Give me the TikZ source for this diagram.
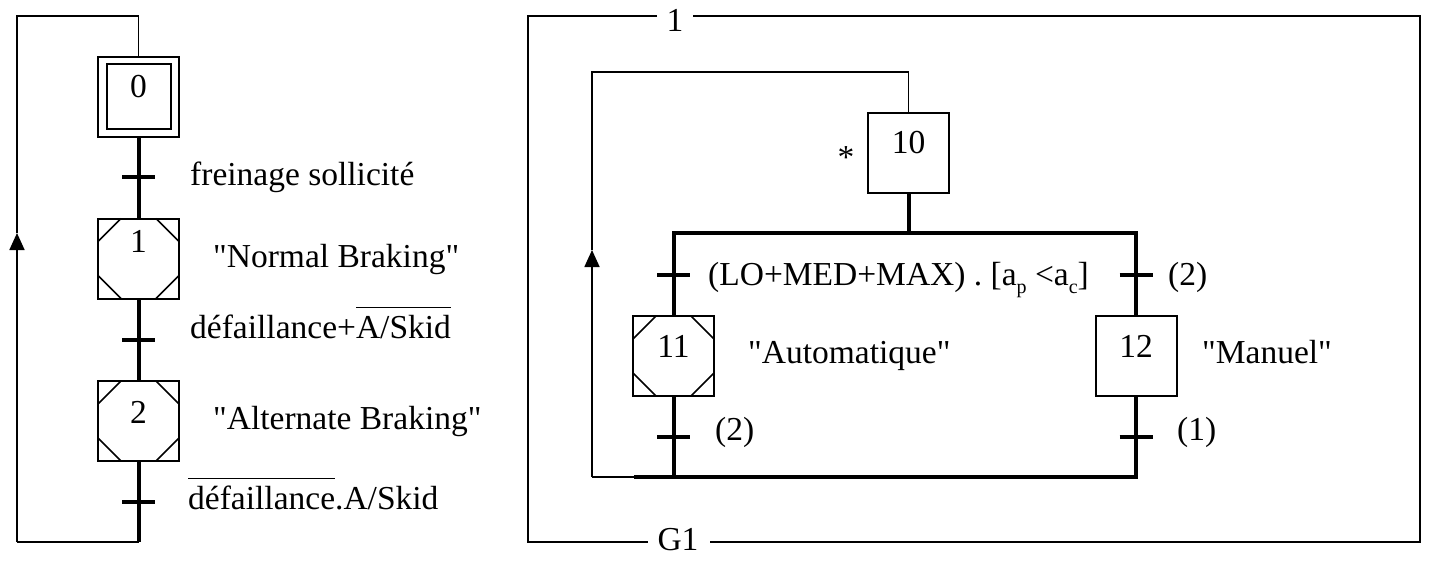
\documentclass[tikz,border=0pt]{standalone}
\usepackage{fontspec}
\setmainfont{Liberation Serif}
\usetikzlibrary{arrows.meta,calc}
\tikzset{
  thinln/.style={line width=1.7pt},
  frameln/.style={line width=1.3pt},
  medln/.style={line width=2.6pt},
  thickln/.style={line width=4pt},
  barln/.style={line width=4pt},
  cornerln/.style={line width=1.7pt},
  stepbox/.style={draw, line width=2pt, minimum width=81pt, minimum height=80pt, inner sep=0pt, outer sep=0pt},
  txt/.style={font=\fontsize{33.5}{40}\selectfont, inner sep=0pt, anchor=base west},
  num/.style={font=\fontsize{33.5}{40}\selectfont, inner sep=0pt, anchor=base},
  uparrow/.style={-{Triangle[length=17pt,width=15pt]}}
}
\newcommand\cutcorners[1]{%
  \draw[cornerln] ($(#1.north west)+(0,23)$) -- ($(#1.north west)+(23,0)$);
  \draw[cornerln] ($(#1.north east)+(-23,0)$) -- ($(#1.north east)+(0,23)$);
  \draw[cornerln] ($(#1.south west)+(0,-23)$) -- ($(#1.south west)+(23,0)$);
  \draw[cornerln] ($(#1.south east)+(-23,0)$) -- ($(#1.south east)+(0,-23)$);}
\newcommand\tbar[1]{\draw[barln] ($(#1)+(-16.5,0)$) -- ($(#1)+(16.5,0)$);}
\newcommand\qq{\textquotedbl}
\newcommand\ovl[1]{$\overline{\hbox{\vrule width 0pt height 29pt #1}}$}
\newcommand\sub[1]{\raisebox{-8pt}{\fontsize{20}{24}\selectfont #1}}
\begin{document}
\begin{tikzpicture}[x=1pt,y=-1pt]
\useasboundingbox[fill=white] (0,0) rectangle (1443,578);

% ---------------- left chart ----------------
\node[stepbox] (s0) at (138.5,97) {};
\node[stepbox, minimum width=64pt, minimum height=65pt] (s0i) at (138.5,96.5) {};
\node[num] (n0) at (138.5,97) {0};

\node[stepbox] (s1) at (138.5,258.5) {};
\cutcorners{s1}
\node[num] (n1) at (138.5,252) {1};

\node[stepbox] (s2) at (138.5,421) {};
\cutcorners{s2}
\node[num] (n2) at (138.5,423) {2};

\coordinate (t0) at (138.5,177);
\coordinate (t1) at (138.5,340);
\coordinate (t2) at (138.5,502);
\coordinate (lb) at (138.5,542);
\coordinate (ll) at (17,542);
\coordinate (la) at (17,233);
\coordinate (lt) at (17,16);
\coordinate (ltr) at (138.5,16);

\draw[thickln] (s0.south) -- (s1.north);
\draw[thickln] (s1.south) -- (s2.north);
\draw[thickln] (s2.south) -- (lb);
\tbar{t0}
\tbar{t1}
\tbar{t2}
\draw[medln] (lb) -- (ll);
\draw[thinln, uparrow] (ll) -- (la);
\draw[thinln] (la) -- (lt) -- (ltr) -- (s0.north);

\node[txt] (c0) at (190,185) {freinage sollicité};
\node[txt] (a1) at (213,267) {\qq Normal Braking\qq};
\node[txt] (c1) at (190,338) {défaillance+\ovl{A/Skid}};
\node[txt] (a2) at (213,429) {\qq Alternate Braking\qq};
\node[txt] (c2) at (188,509) {\ovl{défaillance}.A/Skid};

% ---------------- right chart ----------------
\node[num] (g1top) at (675,32) {1};
\node[num] (g1bot) at (678,550) {G1};
\coordinate (f1) at (657,16);
\coordinate (f2) at (528,16);
\coordinate (f3) at (528,542);
\coordinate (f4) at (648,542);
\coordinate (f5) at (710,542);
\coordinate (f6) at (1420,542);
\coordinate (f7) at (1420,16);
\coordinate (f8) at (693,16);
\draw[frameln] (f1) -- (f2) -- (f3) -- (f4);
\draw[frameln] (f5) -- (f6) -- (f7) -- (f8);

\node[stepbox] (s10) at (908.5,153) {};
\node[num] (n10) at (908.5,153) {10};
\node[num] (star) at (846,168) {*};

\node[stepbox] (s11) at (673.5,356) {};
\cutcorners{s11}
\node[num] (n11) at (673.5,357) {11};

\node[stepbox] (s12) at (1136,356) {};
\node[num] (n12) at (1136,357) {12};

\coordinate (dv) at (908.5,233);
\coordinate (dl) at (673.5,233);
\coordinate (dr) at (1136,233);
\coordinate (t10) at (673.5,275);
\coordinate (t11) at (1136,275);
\coordinate (t12) at (673.5,437);
\coordinate (t13) at (1136,437);
\coordinate (cl) at (673.5,477);
\coordinate (cr) at (1136,477);
\coordinate (cm) at (634,477);
\coordinate (rb) at (592,477);
\coordinate (ra) at (592,250);
\coordinate (rt) at (592,72);
\coordinate (rtr) at (908.5,72);

\draw[thickln] (s10.south) -- (dv);
\draw[thickln] (s11.north) -- (dl) -- (dr) -- (s12.north);
\draw[thickln] (s11.south) -- (cl);
\draw[thickln] (s12.south) -- (cr) -- (cm);
\draw[medln] (cm) -- (rb);
\draw[thinln, uparrow] (rb) -- (ra);
\draw[thinln] (ra) -- (rt) -- (rtr) -- (s10.north);
\tbar{t10}
\tbar{t11}
\tbar{t12}
\tbar{t13}

\node[txt] (c10) at (708,285) {(LO+MED+MAX) . [a\sub{p} <a\sub{c}]};
\node[txt] (c11) at (1168,285) {(2)};
\node[txt] (a11) at (748,363) {\qq Automatique\qq};
\node[txt] (a12) at (1202,363) {\qq Manuel\qq};
\node[txt] (c12) at (715,440) {(2)};
\node[txt] (c13) at (1177,440) {(1)};
\end{tikzpicture}
\end{document}
